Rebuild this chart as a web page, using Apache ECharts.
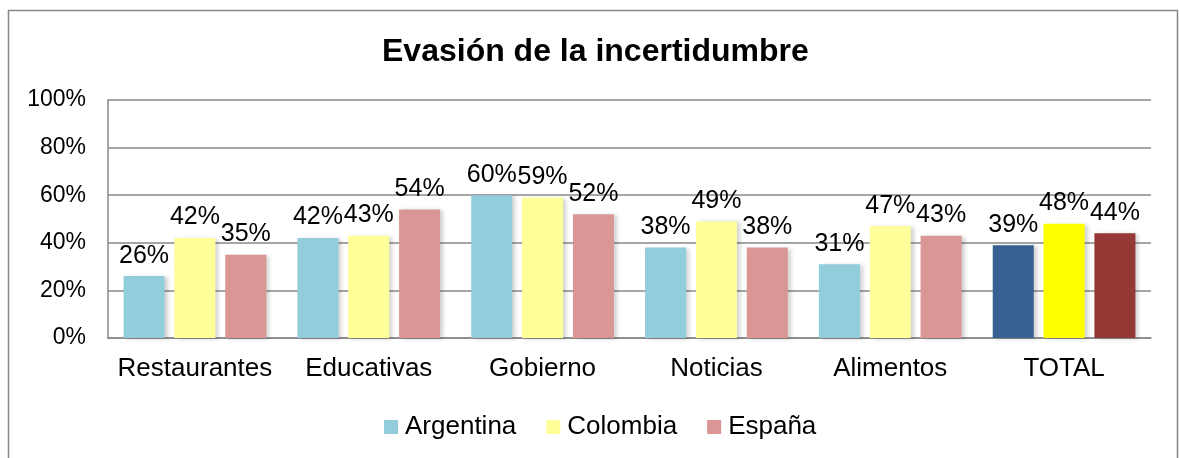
<!DOCTYPE html>
<html>
<head>
<meta charset="utf-8">
<script src="https://cdn.jsdelivr.net/npm/echarts@6/dist/echarts.min.js"></script>
<style>
  html, body { margin: 0; padding: 0; background: #fff; }
  #chart { width: 1179px; height: 458px; }
</style>
</head>
<body>
<div id="chart"></div>
<script>
  var categories = ['Restaurantes', 'Educativas', 'Gobierno', 'Noticias', 'Alimentos', 'TOTAL'];
  var seriesNames = ['Argentina', 'Colombia', 'España'];
  var argentina = [26, 42, 60, 38, 31, 39];
  var colombia = [42, 43, 59, 49, 47, 48];
  var espana = [35, 54, 52, 38, 43, 44];
  var yTicks = [0, 20, 40, 60, 80, 100];

  var baseColors = ['#92cddc', '#ffff99', '#d99694'];
  var totalColors = ['#366092', '#ffff00', '#953735'];

  var chart = echarts.init(document.getElementById('chart'));

  function buildData(values, idx) {
    return values.map(function (v, i) {
      if (categories[i] === 'TOTAL') {
        return { value: v, itemStyle: { color: totalColors[idx] } };
      }
      return v;
    });
  }

  var allValues = [argentina, colombia, espana];
  var series = seriesNames.map(function (name, idx) {
    return {
      name: name,
      type: 'bar',
      barWidth: 41,
      barGap: '24%',
      data: buildData(allValues[idx], idx),
      itemStyle: {
        color: baseColors[idx],
        shadowColor: 'rgba(0,0,0,0.18)',
        shadowBlur: 4,
        shadowOffsetX: 3,
        shadowOffsetY: 1
      },
      label: {
        show: true,
        position: 'top',
        distance: 8,
        color: '#000',
        fontSize: 25,
        formatter: '{c}%'
      }
    };
  });

  chart.setOption({
    animation: false,
    textStyle: { fontFamily: 'Liberation Sans, Arial, sans-serif' },
    title: {
      text: 'Evasión de la incertidumbre',
      left: 377,
      top: 31,
      textStyle: { fontSize: 32, fontWeight: 'bold', color: '#000' }
    },
    legend: {
      top: 409,
      left: 379,
      itemWidth: 14,
      itemHeight: 14,
      itemGap: 30,
      icon: 'rect',
      textStyle: { fontSize: 26, color: '#000', padding: [0, 0, 0, 2] },
      data: seriesNames
    },
    grid: { left: 108, right: 28, top: 100, bottom: 120 },
    xAxis: {
      type: 'category',
      data: categories,
      axisTick: { show: false },
      axisLine: { show: true, lineStyle: { color: '#888', width: 1.5 } },
      axisLabel: { fontSize: 26, color: '#000', margin: 18, interval: 0 }
    },
    yAxis: {
      type: 'value',
      min: yTicks[0],
      max: yTicks[yTicks.length - 1],
      interval: 20,
      axisLine: { show: true, lineStyle: { color: '#888', width: 1.5 } },
      axisTick: { show: false },
      splitLine: { lineStyle: { color: '#888', width: 1.5 } },
      axisLabel: { fontSize: 23, color: '#000', margin: 22, formatter: '{value}%' }
    },
    graphic: [{
      type: 'rect',
      shape: { x: 8.5, y: 10.5, width: 1169, height: 460 },
      style: { fill: 'none', stroke: '#888', lineWidth: 1.5 },
      silent: true
    }],
    series: series
  });
</script>
</body>
</html>
